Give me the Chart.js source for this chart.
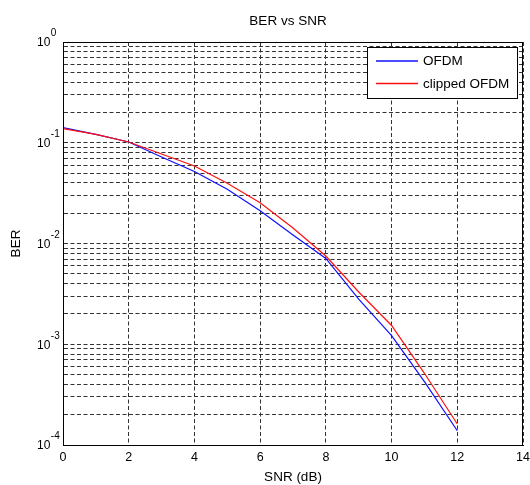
<!DOCTYPE html>
<html>
<head>
<meta charset="utf-8">
<title>BER vs SNR</title>
<script src="https://cdn.jsdelivr.net/npm/chart.js@4/dist/chart.umd.min.js"></script>
<style>
  html, body { margin: 0; padding: 0; background: #fff; }
  canvas { display: block; }
</style>
</head>
<body>
<canvas id="chart" width="530" height="485"></canvas>
<script>
// values
const snrDb = [0, 1, 2, 3, 4, 5, 6, 7, 8, 9, 10, 11, 12];
const berOfdm = [0.1411, 0.1213, 0.1017, 0.0722, 0.0518, 0.0345, 0.02116, 0.01215, 0.0071, 0.00281, 0.00122, 0.000425, 0.0001386];
const berClipped = [0.1384, 0.1213, 0.1017, 0.0773, 0.0588, 0.0396, 0.0254, 0.01425, 0.00751, 0.0033, 0.001535, 0.000515, 0.0001616];
const seriesNames = ['OFDM', 'clipped OFDM'];
const seriesColors = ['#1010ff', '#ff1010'];
const xTickValues = [0, 2, 4, 6, 8, 10, 12, 14];
const yDecades = [0, -1, -2, -3, -4];
const yMantissas = [1, 2, 3, 4, 5, 6, 7, 8, 9];
const chartTitle = 'BER vs SNR';
const xTitle = 'SNR (dB)';
const yTitle = 'BER';

const FONT = '"Liberation Sans", Arial, sans-serif';
const GRID_DASH = [4, 2.5];

// log grid: 1..9 x 10^k in each decade, plus the top 10^0
const yTickValues = [];
yDecades.slice(1).forEach(e => yMantissas.forEach(m => yTickValues.push(m * Math.pow(10, e))));
yTickValues.push(1);
yTickValues.sort((a, b) => a - b);

const extras = {
  id: 'extras',
  afterDraw(chart) {
    const { ctx, chartArea: a, scales } = chart;
    ctx.save();
    ctx.setLineDash([]);

    // axes box
    ctx.strokeStyle = '#000';
    ctx.lineWidth = 1;
    ctx.strokeRect(Math.round(a.left) + 0.5, Math.round(a.top) + 0.5,
      Math.round(a.right - a.left) - 1, Math.round(a.bottom - a.top));

    // title
    ctx.fillStyle = '#000';
    ctx.font = '13.5px ' + FONT;
    ctx.textAlign = 'center';
    ctx.textBaseline = 'middle';
    ctx.fillText(chartTitle, (a.left + a.right) / 2 - 5, a.top / 2);

    // y tick labels 10^k
    ctx.textAlign = 'left';
    yDecades.forEach(e => {
      const y = scales.y.getPixelForValue(Math.pow(10, e));
      ctx.font = '12px ' + FONT;
      ctx.fillText('10', 37, y + 1);
      const w = ctx.measureText('10').width;
      ctx.font = '10px ' + FONT;
      ctx.fillText(e === 0 ? '0' : '-' + Math.abs(e), 37 + w + 0.5, y - 8.5);
    });

    // legend
    const bw = 150, bh = 51;
    const bx = Math.round(a.right) - 6 - bw, by = Math.round(a.top) + 5;
    ctx.fillStyle = '#fff';
    ctx.fillRect(bx, by, bw, bh);
    ctx.strokeStyle = '#000';
    ctx.strokeRect(bx + 0.5, by + 0.5, bw, bh);
    ctx.font = '13.5px ' + FONT;
    ctx.textBaseline = 'middle';
    chart.data.datasets.forEach((ds, i) => {
      const ly = by + 14 + i * 22.5;
      ctx.strokeStyle = ds.borderColor;
      ctx.lineWidth = 1.3;
      ctx.beginPath();
      ctx.moveTo(bx + 9, ly);
      ctx.lineTo(bx + 51, ly);
      ctx.stroke();
      ctx.fillStyle = '#000';
      ctx.fillText(ds.label, bx + 56, ly + 0.5);
    });
    ctx.restore();
  }
};

const ctx = document.getElementById('chart').getContext('2d');
new Chart(ctx, {
  type: 'line',
  data: {
    datasets: [
      {
        label: seriesNames[0],
        data: snrDb.map((x, i) => ({ x, y: berOfdm[i] })),
        borderColor: seriesColors[0],
        borderWidth: 1.2,
        pointRadius: 0,
        tension: 0,
        fill: false,
        order: 2
      },
      {
        label: seriesNames[1],
        data: snrDb.map((x, i) => ({ x, y: berClipped[i] })),
        borderColor: seriesColors[1],
        borderWidth: 1.2,
        pointRadius: 0,
        tension: 0,
        fill: false,
        order: 1
      }
    ]
  },
  options: {
    responsive: false,
    animation: false,
    layout: { padding: { left: 0, top: 42, right: 7, bottom: 0 } },
    scales: {
      x: {
        type: 'linear',
        min: 0,
        max: 14,
        afterBuildTicks: axis => { axis.ticks = xTickValues.map(v => ({ value: v })); },
        afterFit: scale => {
          scale.height = 40;
          scale.paddingLeft = 0;
          scale.paddingRight = 0;
        },
        grid: { color: '#333', lineWidth: 1, drawTicks: false },
        border: { display: true, color: '#000', width: 1, dash: GRID_DASH },
        ticks: {
          color: '#000',
          padding: 5,
          maxRotation: 0,
          autoSkip: false,
          font: { family: FONT, size: 12.5 }
        },
        title: {
          display: true,
          text: xTitle,
          color: '#000',
          font: { family: FONT, size: 13.5 },
          padding: { top: 0, bottom: 0 }
        }
      },
      y: {
        type: 'logarithmic',
        min: 1e-4,
        max: 1,
        afterBuildTicks: axis => { axis.ticks = yTickValues.map(v => ({ value: v })); },
        afterFit: scale => { scale.width = 63; },
        grid: { color: '#333', lineWidth: 1, drawTicks: false },
        border: { display: true, color: '#000', width: 1, dash: GRID_DASH },
        ticks: { display: false },
        title: {
          display: true,
          text: yTitle,
          color: '#000',
          font: { family: FONT, size: 13.5 },
          padding: { top: 8, bottom: 0 }
        }
      }
    },
    plugins: {
      legend: { display: false },
      title: { display: false },
      tooltip: { enabled: false }
    }
  },
  plugins: [extras]
});
</script>
</body>
</html>
